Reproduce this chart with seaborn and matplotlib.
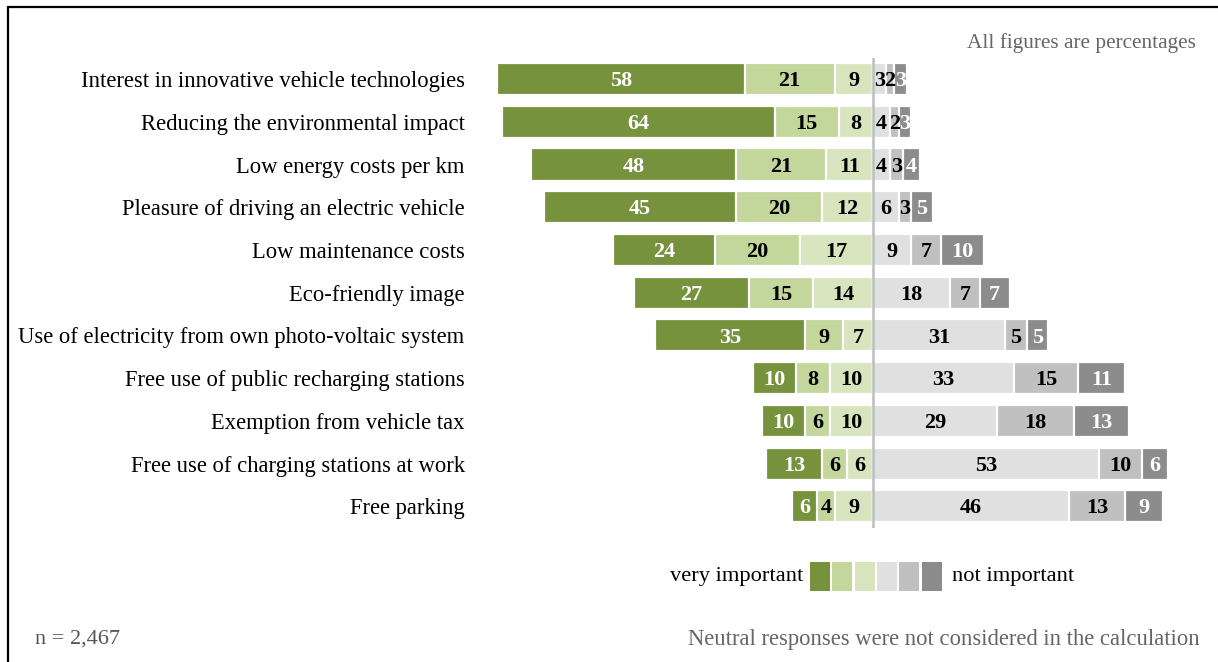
import matplotlib
matplotlib.use("Agg")
import matplotlib.pyplot as plt
from matplotlib.patches import Rectangle
from matplotlib.lines import Line2D
import seaborn as sns
import pandas as pd

categories = [
    "Interest in innovative vehicle technologies",
    "Reducing the environmental impact",
    "Low energy costs per km",
    "Pleasure of driving an electric vehicle",
    "Low maintenance costs",
    "Eco-friendly image",
    "Use of electricity from own photo-voltaic system",
    "Free use of public recharging stations",
    "Exemption from vehicle tax",
    "Free use of charging stations at work",
    "Free parking",
]
very_important = [58, 64, 48, 45, 24, 27, 35, 10, 10, 13, 6]
important = [21, 15, 21, 20, 20, 15, 9, 8, 6, 6, 4]
somewhat_important = [9, 8, 11, 12, 17, 14, 7, 10, 10, 6, 9]
rather_unimportant = [3, 4, 4, 6, 9, 18, 31, 33, 29, 53, 46]
unimportant = [2, 2, 3, 3, 7, 7, 5, 15, 18, 10, 13]
not_important = [3, 3, 4, 5, 10, 7, 5, 11, 13, 6, 9]

colors = ["#76923C", "#C3D69B", "#D7E4BD", "#E0E0E0", "#C0C0C0", "#8C8C8C"]
text_colors = ["white", "black", "black", "black", "black", "white"]

sns.set_style("white")
plt.rcParams["font.family"] = ["Liberation Serif", "DejaVu Serif"]

fig = plt.figure(figsize=(12.18, 6.62), dpi=100)
W, H = 1218, 662
ax_l, ax_r, ax_t, ax_b = 480, 1200, 57.7, 527.7
ax = fig.add_axes([ax_l / W, 1 - ax_b / H, (ax_r - ax_l) / W, (ax_b - ax_t) / H])

df = pd.DataFrame({
    "cat": categories,
    "v": very_important, "i": important, "s": somewhat_important,
    "r": rather_unimportant, "u": unimportant, "n": not_important,
})

# cumulative extents (left side negative)
left3 = -(df["v"] + df["i"] + df["s"])
left2 = -(df["i"] + df["s"])
left1 = -df["s"]
right3 = df["r"] + df["u"] + df["n"]
right2 = df["r"] + df["u"]
right1 = df["r"]

layers = [
    (left3, colors[0]), (left2, colors[1]), (left1, colors[2]),
    (right3, colors[5]), (right2, colors[4]), (right1, colors[3]),
]
for vals, col in layers:
    sns.barplot(x=vals, y=df["cat"], color=col, orient="h", width=0.75,
                saturation=1, edgecolor="white", linewidth=1.6, ax=ax,
                errorbar=None)

# segment labels
series = [very_important, important, somewhat_important,
          rather_unimportant, unimportant, not_important]
for row in range(len(categories)):
    v, i, s = very_important[row], important[row], somewhat_important[row]
    r, u, n = rather_unimportant[row], unimportant[row], not_important[row]
    starts = [-(v + i + s), -(i + s), -s, 0, r, r + u]
    for k, ser in enumerate(series):
        val = ser[row]
        cx = starts[k] + val / 2
        ax.text(cx, row + 0.05, str(val), ha="center", va="center",
                fontsize=16, fontweight="bold", color=text_colors[k])

ax.axvline(0, color="#BDBDBD", lw=1.8, zorder=5)

ax.set_xlim(-(873 - ax_l) / 4.27, (ax_r - 873) / 4.27)
ax.set_ylim(10.5, -0.5)
ax.set_xlabel("")
ax.set_ylabel("")
ax.set_xticks([])
ax.tick_params(axis="y", length=0, pad=11, labelsize=16.3, labelcolor="black")
for lbl in ax.get_yticklabels():
    lbl.set_verticalalignment("center_baseline")
for sp in ax.spines.values():
    sp.set_visible(False)
ax.set_facecolor("none")

# annotations
fig.text(1196 / W, 1 - 43 / H, "All figures are percentages", ha="right",
         va="center", fontsize=15.3, color="#666666")
fig.text(35 / W, 1 - 639 / H, "n = 2,467", ha="left", va="center",
         fontsize=16, color="#555555")
fig.text(1200 / W, 1 - 639 / H,
         "Neutral responses were not considered in the calculation",
         ha="right", va="center", fontsize=16.3, color="#666666")

# legend
fig.text(803 / W, 1 - 577 / H, "very important", ha="right", va="center",
         fontsize=16.2, color="black")
fig.text(952 / W, 1 - 577 / H, "not important", ha="left", va="center",
         fontsize=16.2, color="black")
box_x = [810, 832, 855, 877, 899, 922]
for bx, col in zip(box_x, colors):
    fig.add_artist(Rectangle((bx / W, 1 - 591 / H), 20 / W, 29 / H,
                             transform=fig.transFigure, facecolor=col,
                             edgecolor="none"))

# frame lines (top and left)
fig.add_artist(Line2D([8 / W, 1], [1 - 7 / H, 1 - 7 / H],
                      transform=fig.transFigure, color="black", lw=1.6))
fig.add_artist(Line2D([8 / W, 8 / W], [0, 1 - 7 / H],
                      transform=fig.transFigure, color="black", lw=1.6))

fig.savefig("out.png", dpi=100, facecolor="white")
